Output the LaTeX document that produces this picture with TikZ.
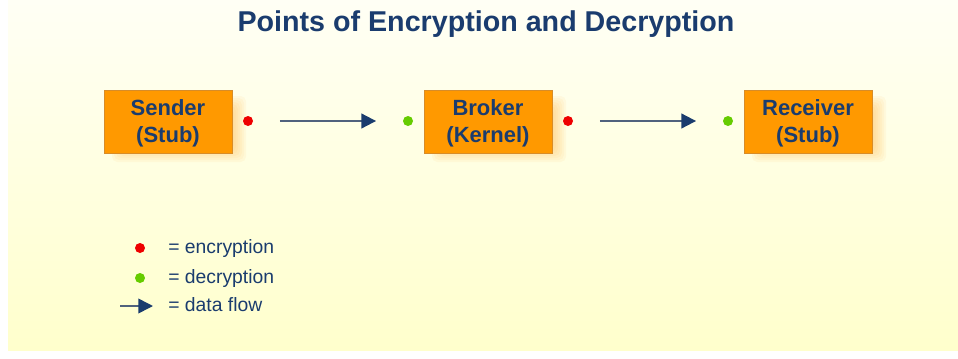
\documentclass[tikz,border=0pt]{standalone}
\usepackage{fontspec}
\setmainfont{Liberation Sans}
\usepackage{tikz}
\usetikzlibrary{arrows.meta, positioning}
\usepackage{xcolor}
\definecolor{boxorange}{RGB}{255, 153, 0}
\definecolor{boxedge}{RGB}{215, 140, 40}
\definecolor{textnavy}{RGB}{26, 60, 110}
\definecolor{flowgray}{RGB}{80, 98, 125}
\definecolor{encred}{RGB}{238, 0, 0}
\definecolor{decgreen}{RGB}{102, 204, 0}
\definecolor{bgtop}{RGB}{255, 255, 245}
\definecolor{bgbottom}{RGB}{255, 255, 204}
\newcommand{\partylines}[2]{\rule{0pt}{15pt}#1\\#2}

\tikzset{
  partybox/.style={draw=boxedge, line width=0.4pt, fill=boxorange,
    minimum width=96pt, minimum height=47.25pt, align=center,
    font=\fontsize{16.5}{20.5}\selectfont\bfseries, text=textnavy},
  glow/.style={fill=boxorange, opacity=0.05, rounded corners=4pt},
  encdot/.style={circle, fill=encred, inner sep=0pt, minimum size=7.5pt},
  decdot/.style={circle, fill=decgreen, inner sep=0pt, minimum size=7.5pt},
  flow/.style={draw=flowgray, line width=1.5pt,
    -{Triangle[length=11pt, width=11pt, color=textnavy]}},
  legendtext/.style={anchor=base west, inner sep=0pt, text=textnavy,
    font=\fontsize{14.5}{17}\selectfont}
}

\begin{document}
\begin{tikzpicture}[x=0.75pt, y=-0.75pt]
  \useasboundingbox (0,0) rectangle (958,358);
  \fill[white] (0,0) rectangle (958,358);
  \shade[top color=bgtop, bottom color=bgbottom] (8,0) rectangle (958,350);

  \node[text=textnavy, font=\fontsize{21.5}{25}\selectfont\bfseries]
    (title) at (486,24) {Points of Encryption and Decryption};

  % soft shadow below right of each box
  \foreach \cx in {168,488,808}
    \foreach \r in {0,2,...,16}
      \fill[glow] (\cx-56+\r,96+\r) rectangle (\cx+78-\r,162-\r);

  \node[partybox] (sender) at (168,121.5) {\partylines{Sender}{(Stub)}};
  \node[partybox] (broker) at (488,121.5) {\partylines{Broker}{(Kernel)}};
  \node[partybox] (receiver) at (808,121.5) {\partylines{Receiver}{(Stub)}};

  \node[encdot] (enc1) at (248,121) {};
  \node[decdot] (dec1) at (408,121) {};
  \node[encdot] (enc2) at (568,121) {};
  \node[decdot] (dec2) at (728,121) {};

  \draw[flow, shorten <=20pt, shorten >=20pt] (enc1) -- (dec1);
  \draw[flow, shorten <=20pt, shorten >=20pt] (enc2) -- (dec2);

  \node[encdot] (legenc) at (140,248) {};
  \node[decdot] (legdec) at (140,278) {};
  \coordinate (legstart) at (120,306);
  \coordinate (legend) at (153,306);
  \draw[flow, line width=1.2pt] (legstart) -- (legend);

  \node[legendtext] (encl) at (168,253.5) {= encryption};
  \node[legendtext] (decl) at (168,283.5) {= decryption};
  \node[legendtext] (flowl) at (168,311.5) {= data flow};
\end{tikzpicture}
\end{document}
